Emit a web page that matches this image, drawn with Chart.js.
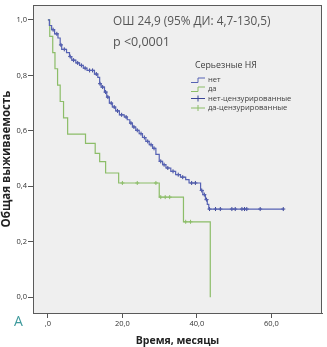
<!DOCTYPE html>
<html>
<head>
<meta charset="utf-8">
<script src="https://cdn.jsdelivr.net/npm/chart.js@4.4.1/dist/chart.umd.min.js"></script>
<style>
  html, body { margin: 0; padding: 0; background: #fff; }
  #wrap { width: 327px; height: 347px; position: relative; }
</style>
</head>
<body>
<div id="wrap"><canvas id="km"></canvas></div>
<script>
// ── Данные ────────────────────────────────────────────────────
// "нет" — ступени кривой Каплана-Мейера: время (мес) и доля выживших
const netTimes = [0, 0.4, 1.0, 1.8, 2.7, 3.3, 3.7, 5.0, 5.8, 6.4, 7.5, 8.5, 9.5, 10.5, 12.5, 13.4, 13.9, 14.3,
  15.2, 15.8, 16.5, 17.3, 18.2, 19.2, 20.5, 21.3, 22.0, 22.7, 23.6, 24.5, 25.4, 26.3, 27.2, 28.1, 29.0, 29.9,
  30.8, 31.7, 33.0, 34.3, 35.6, 37.0, 37.9, 41.0, 41.6, 42.3, 42.8, 43.2, 63.2];
const netSurv = [1, 0.98, 0.965, 0.95, 0.935, 0.91, 0.894, 0.882, 0.868, 0.855, 0.845, 0.836, 0.826, 0.818, 0.805,
  0.793, 0.770, 0.758, 0.740, 0.722, 0.700, 0.686, 0.672, 0.658, 0.650, 0.640, 0.628, 0.614, 0.602, 0.590, 0.576,
  0.562, 0.550, 0.537, 0.515, 0.490, 0.478, 0.466, 0.454, 0.442, 0.433, 0.424, 0.412, 0.385, 0.370, 0.352, 0.335,
  0.318, 0.318];
const netCensored = [1.4, 2.4, 3.5, 4.4, 6.0, 6.9, 8.0, 9.0, 10.0, 11.2, 12.0, 13.0, 14.0, 14.7, 15.5, 16.1, 17.0,
  17.8, 18.7, 19.8, 21.0, 22.3, 23.1, 24.0, 25.0, 25.9, 26.8, 27.7, 28.5, 30.3, 31.2, 32.2, 33.6, 35.0, 36.2,
  38.6, 39.6, 41.3, 42.0, 42.6, 43.4, 45.0, 46.3, 49.4, 50.3, 52.1, 52.8, 53.4, 57.0, 63.2];

// "да"
const daTimes = [0, 0.5, 1.3, 1.9, 2.6, 3.3, 4.2, 5.3, 10.1, 12.7, 13.9, 15.5, 19.0, 29.9, 36.4, 43.6];
const daSurv  = [1, 0.941, 0.882, 0.824, 0.765, 0.706, 0.647, 0.588, 0.555, 0.519, 0.489, 0.448, 0.412, 0.361, 0.272, 0.0];
const daCensored = [20.0, 24.0, 29.0, 30.3, 31.5, 32.7, 37.0, 38.3];

const xTicks = [0, 20, 40, 60];
const yTicks = [0, 0.2, 0.4, 0.6, 0.8, 1.0];

const legendTitle = 'Серьезные НЯ';
const legendLabels = ['нет', 'да', 'нет-цензурированные', 'да-цензурированные'];
const statLines = ['ОШ 24,9 (95% ДИ: 4,7-130,5)', 'p <0,0001'];

// ── Цвета ─────────────────────────────────────────────────────
const BLUE  = '#5662b4';
const BLUE_MARK = '#3a4596';
const GREEN = '#8cbd68';

// ── Вспомогательные ───────────────────────────────────────────
function steps(times, surv) {
  return times.map((t, i) => ({ x: t, y: surv[i] }));
}
function survAt(times, surv, t) {
  let v = surv[0];
  for (let i = 0; i < times.length; i++) {
    if (times[i] <= t) v = surv[i];
  }
  return v;
}
function marks(cens, times, surv) {
  return cens.map(t => ({ x: t, y: survAt(times, surv, t) }));
}
const comma = v => v.toFixed(1).replace('.', ',');

// ── Плагин: фон, рамка, текст, легенда ────────────────────────
const decor = {
  id: 'decor',
  beforeDraw(chart) {
    const { ctx, chartArea: a } = chart;
    ctx.save();
    ctx.fillStyle = '#efefef';
    ctx.fillRect(a.left, a.top, a.right - a.left, a.bottom - a.top);
    ctx.restore();
  },
  afterDraw(chart) {
    const { ctx, chartArea: a } = chart;
    ctx.save();
    ctx.strokeStyle = '#5a5a5a';
    ctx.lineWidth = 1;
    ctx.strokeRect(a.left + 0.5, a.top + 0.5, a.right - a.left - 1, a.bottom - a.top);

    // статистика
    ctx.fillStyle = '#555';
    ctx.font = '11.8px "Open Sans", sans-serif';
    ctx.textBaseline = 'middle';
    ctx.textAlign = 'left';
    ctx.fillText(statLines[0], 113, 22);
    ctx.font = '12.5px "Open Sans", sans-serif';
    ctx.fillText(statLines[1], 113, 42);

    // легенда
    ctx.fillStyle = '#404040';
    ctx.font = '8.8px "Open Sans", sans-serif';
    ctx.fillText(legendTitle, 195, 65);
    const ys = [80, 89, 98.5, 108];
    const cols = [BLUE, GREEN, BLUE_MARK, GREEN];
    ctx.font = '7.6px "Open Sans", sans-serif';
    legendLabels.forEach((lab, i) => {
      const y = ys[i];
      ctx.strokeStyle = cols[i];
      ctx.lineWidth = 1;
      ctx.beginPath();
      if (i < 2) {
        ctx.moveTo(191, y + 2.5);
        ctx.lineTo(198, y + 2.5);
        ctx.lineTo(198, y - 2);
        ctx.lineTo(205, y - 2);
      } else {
        ctx.moveTo(191, y);
        ctx.lineTo(205, y);
        ctx.moveTo(198, y - 3);
        ctx.lineTo(198, y + 3);
      }
      ctx.stroke();
      ctx.fillStyle = '#404040';
      ctx.fillText(lab, 208, y);
    });

    // буква панели
    ctx.fillStyle = '#3e9a9c';
    ctx.font = '14px "Open Sans", sans-serif';
    ctx.fillText('A', 14, 322);
    ctx.restore();
  }
};

// ── График ────────────────────────────────────────────────────
new Chart(document.getElementById('km'), {
  type: 'line',
  data: {
    datasets: [
      {
        label: legendLabels[0],
        data: steps(netTimes, netSurv),
        borderColor: BLUE,
        borderWidth: 1.2,
        stepped: 'before',
        pointRadius: 0,
        fill: false
      },
      {
        label: legendLabels[1],
        data: steps(daTimes, daSurv),
        borderColor: GREEN,
        borderWidth: 1.2,
        stepped: 'before',
        pointRadius: 0,
        fill: false
      },
      {
        label: legendLabels[2],
        data: marks(netCensored, netTimes, netSurv),
        showLine: false,
        pointStyle: 'cross',
        pointRadius: 2,
        borderColor: BLUE_MARK,
        borderWidth: 1
      },
      {
        label: legendLabels[3],
        data: marks(daCensored, daTimes, daSurv),
        showLine: false,
        pointStyle: 'cross',
        pointRadius: 2,
        borderColor: GREEN,
        borderWidth: 1
      }
    ]
  },
  options: {
    responsive: true,
    maintainAspectRatio: false,
    animation: false,
    layout: { padding: { top: 1, right: 3, left: 0, bottom: 0 } },
    plugins: { legend: { display: false }, tooltip: { enabled: false } },
    scales: {
      x: {
        type: 'linear',
        min: -4.0,
        max: 73.6,
        afterBuildTicks: s => { s.ticks = xTicks.map(v => ({ value: v })); },
        afterFit: s => { s.height = 34; s.paddingLeft = 0; s.paddingRight = 0; },
        ticks: {
          callback: v => (v === 0 ? ',0' : comma(v)),
          color: '#333',
          font: { size: 7.5, family: '"Open Sans", sans-serif' },
          padding: 1,
          maxRotation: 0
        },
        grid: { drawOnChartArea: false, drawTicks: true, tickLength: 5, color: '#555' },
        border: { color: '#5a5a5a' },
        title: {
          display: true,
          text: 'Время, месяцы',
          color: '#222',
          font: { size: 10.5, weight: 'bold', family: '"Open Sans", sans-serif' },
          padding: { top: 3, bottom: 0 }
        }
      },
      y: {
        min: -0.057,
        max: 1.054,
        afterBuildTicks: s => { s.ticks = yTicks.map(v => ({ value: v })); },
        afterFit: s => { s.width = 33; s.paddingTop = 0; s.paddingBottom = 0; },
        ticks: {
          callback: v => comma(v),
          color: '#333',
          font: { size: 7.5, family: '"Open Sans", sans-serif' },
          padding: 1
        },
        grid: { drawOnChartArea: false, drawTicks: true, tickLength: 5, color: '#555' },
        border: { color: '#5a5a5a' },
        title: {
          display: true,
          text: 'Общая выживаемость',
          color: '#222',
          font: { size: 11.5, weight: 'bold', family: '"Open Sans", sans-serif' },
          padding: { top: 0, bottom: 0 }
        }
      }
    }
  },
  plugins: [decor]
});
</script>
</body>
</html>
